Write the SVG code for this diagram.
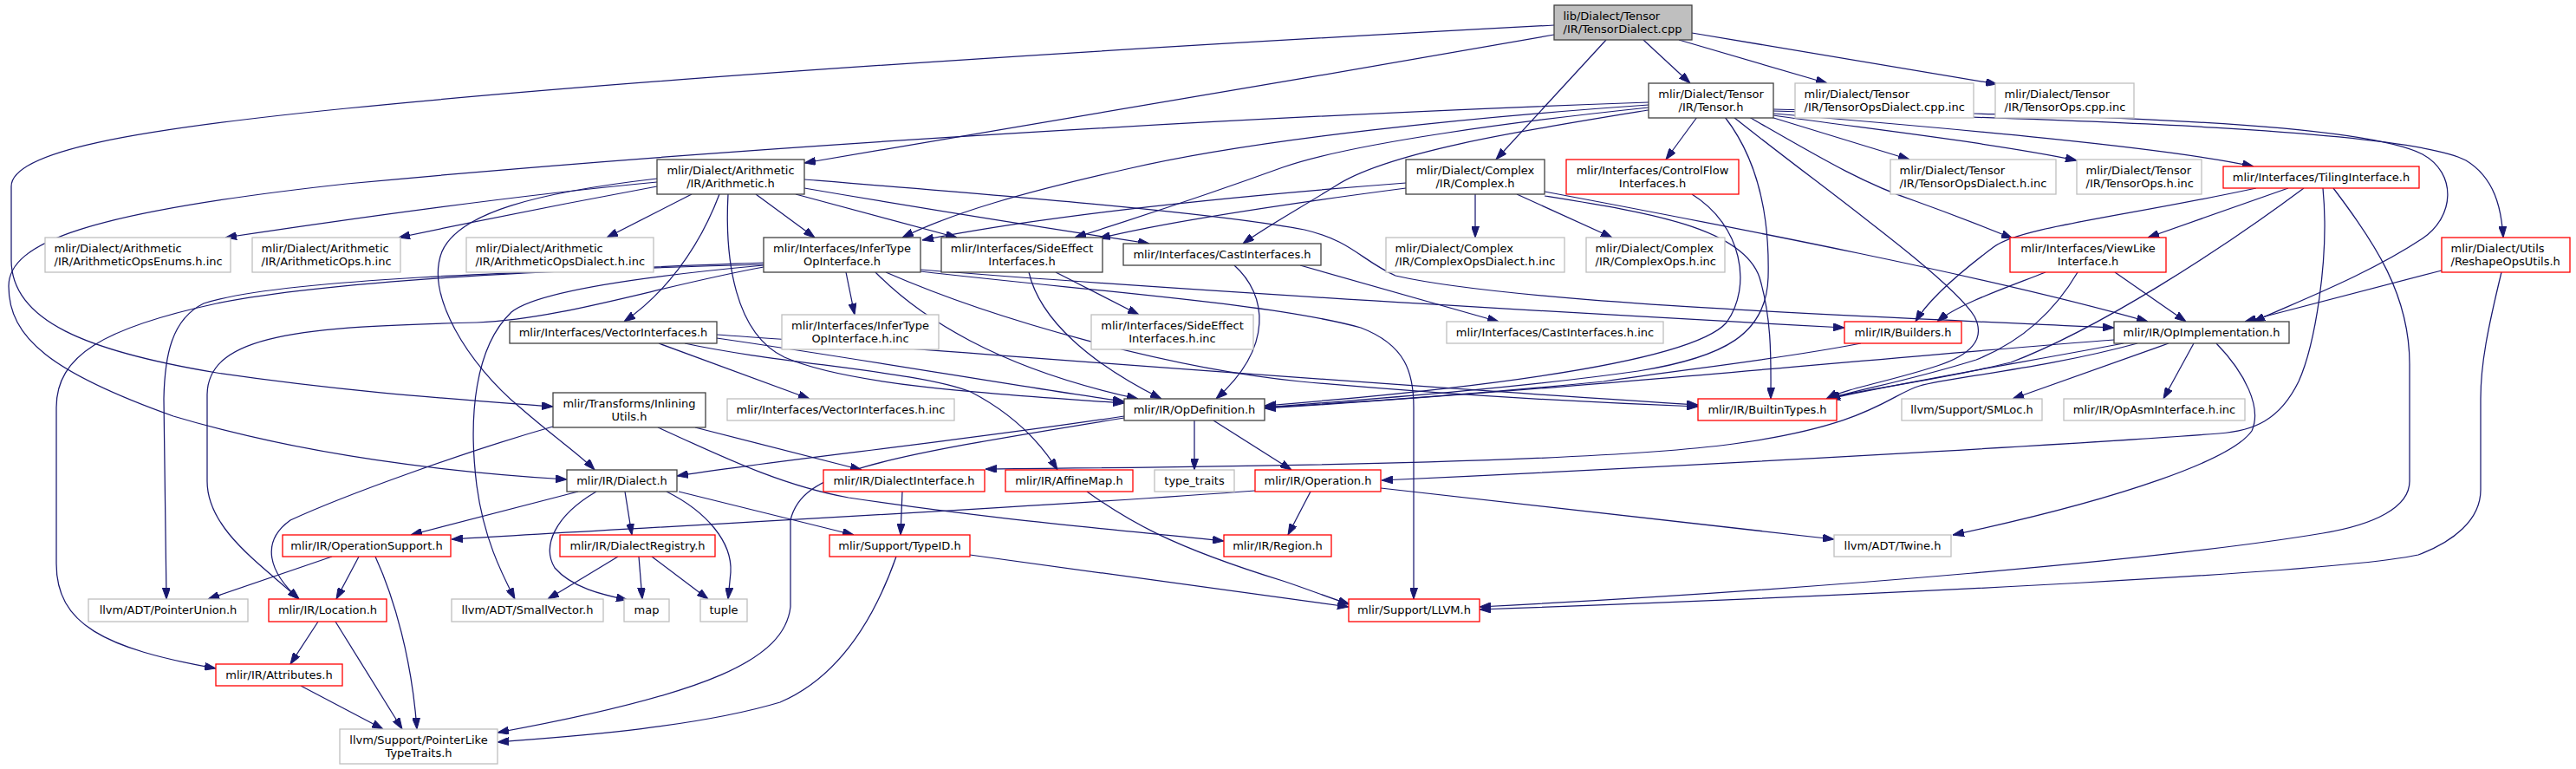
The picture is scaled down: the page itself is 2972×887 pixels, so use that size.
<svg xmlns="http://www.w3.org/2000/svg" width="2972" height="887" viewBox="0 0 2972 887">
<defs>
<marker id="a" viewBox="0 0 13 9" markerWidth="13" markerHeight="9" refX="13" refY="4.5" orient="auto" markerUnits="userSpaceOnUse"><path d="M0,0 L13,4.5 L0,9 z" fill="#191970" stroke="#191970" stroke-width="1"/></marker>
<style>
.e path{fill:none;stroke:#191970;stroke-width:1.25;marker-end:url(#a)}
rect{fill:#fff;stroke-width:1.3}
.k rect{stroke:#404040}
.r rect{stroke:#ff0000}
.g rect{stroke:#bfbfbf}
.root rect{fill:#bfbfbf;stroke:#404040}
text{font-family:"DejaVu Sans","Liberation Sans",sans-serif;font-size:13px;fill:#000}
.m{text-anchor:middle}
</style>
</defs>
<rect x="0" y="0" width="2972" height="887" fill="#fff" stroke="none"/>
<g id="connectors" class="e">
<path d="M1896,46 L1950,96"/>
<path d="M1937,46 L2108,96"/>
<path d="M1952,38 L2304,97"/>
<path d="M1853,46 L1726,184"/>
<path d="M1793,40 C1500,92 1150,150 928,188"/>
<path d="M1793,29 C1400,50 800,85 400,125 C150,150 13,175 13,215 L13,300 C13,370 100,405 250,430 C400,452 520,460 638,469"/>
<path d="M1902,118 C1500,132 900,165 400,212 C100,245 10,280 10,330 C10,390 60,430 200,480 C350,525 520,545 654,553"/>
<path d="M1902,121 C1700,135 1450,160 1300,195 C1180,222 1100,245 1041,274"/>
<path d="M1902,124 C1750,140 1560,165 1480,193 C1400,222 1300,255 1240,274"/>
<path d="M1902,127 C1760,150 1600,175 1540,215 C1500,240 1460,262 1434,281"/>
<path d="M1958,135 L1922,184"/>
<path d="M2000,135 C2100,215 2250,320 2278,365 C2292,392 2272,410 2235,422 C2180,440 2130,448 2107,460"/>
<path d="M1990,135 C2025,180 2042,240 2040,320 C2038,385 1990,412 1890,428 C1750,448 1560,462 1459,470"/>
<path d="M2018,135 C2100,182 2150,212 2210,232 C2260,250 2295,264 2322,275"/>
<path d="M2043,135 L2203,184"/>
<path d="M2046,133 C2150,148 2300,165 2396,185"/>
<path d="M2046,131 C2250,148 2500,170 2600,192"/>
<path d="M2046,128 C2400,138 2780,150 2845,185 C2878,205 2886,240 2888,274"/>
<path d="M2046,126 C2400,133 2720,140 2795,178 C2835,200 2832,250 2795,275 C2730,318 2650,348 2600,371"/>
<path d="M758,210 C600,225 420,250 260,274"/>
<path d="M758,215 C650,235 550,255 460,274"/>
<path d="M798,224 L700,274"/>
<path d="M830,224 C805,290 765,340 720,371"/>
<path d="M758,206 C620,222 530,245 510,290 C490,340 540,420 600,470 C640,505 670,525 686,542"/>
<path d="M872,224 L940,274"/>
<path d="M918,224 L1104,274"/>
<path d="M928,217 C1050,238 1200,262 1326,281"/>
<path d="M840,224 C836,300 848,385 905,412 C980,445 1150,455 1297,465"/>
<path d="M928,207 C1150,225 1400,245 1505,265 C1560,278 1570,300 1610,318 C1750,350 2150,365 2439,378"/>
<path d="M1622,211 C1400,228 1200,250 1064,277"/>
<path d="M1622,217 C1500,233 1350,255 1268,275"/>
<path d="M1702,224 L1702,274"/>
<path d="M1750,224 L1860,274"/>
<path d="M1782,221 C2000,262 2300,320 2478,371"/>
<path d="M1782,226 C1900,245 2010,262 2030,320 C2045,370 2043,420 2043,460"/>
<path d="M1952,224 C2010,260 2022,330 1992,372 C1945,425 1620,455 1459,468"/>
<path d="M2603,217 C2450,250 2330,262 2300,285 C2260,315 2225,345 2210,371"/>
<path d="M2640,217 L2478,274"/>
<path d="M2658,217 C2560,290 2420,380 2320,418 C2230,440 2140,450 2108,460"/>
<path d="M2680,217 C2688,300 2670,400 2652,440 C2630,485 2600,497 2560,500 C2400,512 2000,535 1594,554"/>
<path d="M2692,217 C2740,280 2780,340 2780,420 L2780,555 C2780,585 2740,605 2680,615 C2500,645 2100,680 1707,700"/>
<path d="M2817,312 L2590,371"/>
<path d="M2886,314 C2870,380 2862,420 2862,460 L2862,565 C2862,600 2830,625 2790,640 C2700,660 2200,685 1707,703"/>
<path d="M2360,314 C2320,330 2260,350 2235,371"/>
<path d="M2397,314 C2370,360 2330,395 2280,415 C2200,440 2140,450 2110,460"/>
<path d="M2440,314 L2522,371"/>
<path d="M976,314 L986,363"/>
<path d="M881,303 C700,310 400,320 250,350 C120,378 65,410 65,470 L65,650 C65,720 120,748 249,771"/>
<path d="M881,305 C600,313 320,322 235,350 C198,368 190,410 189,460 L192,691"/>
<path d="M881,308 C760,330 650,368 550,372 C350,377 240,385 239,455 L239,555 C239,610 300,650 345,691"/>
<path d="M881,306 C750,318 620,335 590,360 C548,400 540,480 550,560 C558,620 578,660 594,691"/>
<path d="M1062,311 C1300,330 1700,355 2128,378"/>
<path d="M1022,314 C1150,370 1350,425 1500,440 C1700,458 1850,465 1959,469"/>
<path d="M1010,314 C1060,365 1150,425 1313,460"/>
<path d="M1062,313 C1250,335 1470,350 1570,378 C1622,398 1631,430 1631,470 L1631,691"/>
<path d="M1218,314 L1314,363"/>
<path d="M1187,314 C1200,370 1260,420 1340,460"/>
<path d="M1500,306 L1729,371"/>
<path d="M1424,306 C1462,340 1470,400 1403,460"/>
<path d="M760,396 L934,460"/>
<path d="M790,396 C900,420 1060,428 1120,452 C1170,478 1200,510 1220,542"/>
<path d="M827,390 C1000,415 1200,450 1297,463"/>
<path d="M827,386 C1100,405 1600,445 1959,467"/>
<path d="M2147,396 C2050,415 1950,425 1850,440 C1700,455 1550,465 1459,470"/>
<path d="M2439,392 C2200,410 1800,450 1459,471"/>
<path d="M2450,396 C2350,415 2200,440 2110,460"/>
<path d="M2466,396 C2360,425 2250,435 2215,445 C2180,455 2160,490 2000,512 C1850,532 1500,538 1137,541"/>
<path d="M2502,396 C2450,415 2400,432 2322,460"/>
<path d="M2531,396 L2496,460"/>
<path d="M2557,396 C2590,430 2610,470 2598,497 C2575,530 2450,575 2253,617"/>
<path d="M638,492 C540,520 400,570 335,600 C300,625 310,660 345,691"/>
<path d="M802,493 L994,542"/>
<path d="M759,493 C830,525 900,560 979,574 C1150,600 1300,612 1412,624"/>
<path d="M1297,480 C1100,510 900,530 781,549"/>
<path d="M1378,485 L1378,542"/>
<path d="M1400,485 L1490,542"/>
<path d="M1297,482 C1000,530 925,545 912,600 L912,700 C905,760 820,800 574,845"/>
<path d="M667,567 L474,617"/>
<path d="M721,567 L729,617"/>
<path d="M688,567 C640,595 625,630 640,655 C660,678 695,686 724,692"/>
<path d="M769,567 C815,590 845,625 843,660 L840,691"/>
<path d="M783,567 L985,617"/>
<path d="M713,642 L632,691"/>
<path d="M737,642 L741,691"/>
<path d="M752,642 L817,691"/>
<path d="M1041,567 L1039,617"/>
<path d="M1254,567 C1300,600 1350,630 1480,670 C1510,680 1535,690 1557,697"/>
<path d="M1119,640 C1300,665 1450,685 1556,700"/>
<path d="M1034,642 C1010,710 970,780 900,810 C800,840 650,850 574,856"/>
<path d="M1448,566 C1200,585 800,605 521,622"/>
<path d="M1512,567 L1486,617"/>
<path d="M1593,563 L2116,622"/>
<path d="M383,642 L240,691"/>
<path d="M414,642 L388,691"/>
<path d="M433,642 C455,690 475,760 481,841"/>
<path d="M367,717 L335,766"/>
<path d="M387,717 L464,841"/>
<path d="M347,791 L442,841"/>
</g>
<g id="n1" class="root"><rect x="1793" y="6" width="159" height="40"/><text x="1803.5" y="23">lib/Dialect/Tensor</text><text x="1803.5" y="38">/IR/TensorDialect.cpp</text></g>
<g id="n2" class="k"><rect x="1902" y="96" width="144" height="40"/><text class="m" x="1974" y="113">mlir/Dialect/Tensor</text><text class="m" x="1974" y="128">/IR/Tensor.h</text></g>
<g id="n3" class="g"><rect x="2071" y="96" width="206" height="40"/><text x="2081.5" y="113">mlir/Dialect/Tensor</text><text x="2081.5" y="128">/IR/TensorOpsDialect.cpp.inc</text></g>
<g id="n4" class="g"><rect x="2302" y="96" width="160" height="40"/><text x="2312.5" y="113">mlir/Dialect/Tensor</text><text x="2312.5" y="128">/IR/TensorOps.cpp.inc</text></g>
<g id="n5" class="k"><rect x="758" y="184" width="170" height="40"/><text class="m" x="843" y="201">mlir/Dialect/Arithmetic</text><text class="m" x="843" y="216">/IR/Arithmetic.h</text></g>
<g id="n6" class="k"><rect x="1622" y="184" width="160" height="40"/><text class="m" x="1702" y="201">mlir/Dialect/Complex</text><text class="m" x="1702" y="216">/IR/Complex.h</text></g>
<g id="n7" class="r"><rect x="1807" y="184" width="199" height="40"/><text class="m" x="1906.5" y="201">mlir/Interfaces/ControlFlow</text><text class="m" x="1906.5" y="216">Interfaces.h</text></g>
<g id="n8" class="g"><rect x="2181" y="184" width="191" height="40"/><text x="2191.5" y="201">mlir/Dialect/Tensor</text><text x="2191.5" y="216">/IR/TensorOpsDialect.h.inc</text></g>
<g id="n9" class="g"><rect x="2396" y="184" width="144" height="40"/><text x="2406.5" y="201">mlir/Dialect/Tensor</text><text x="2406.5" y="216">/IR/TensorOps.h.inc</text></g>
<g id="n10" class="r"><rect x="2565" y="192" width="226" height="25"/><text class="m" x="2678" y="209">mlir/Interfaces/TilingInterface.h</text></g>
<g id="n11" class="g"><rect x="52" y="274" width="214" height="40"/><text x="62.5" y="291">mlir/Dialect/Arithmetic</text><text x="62.5" y="306">/IR/ArithmeticOpsEnums.h.inc</text></g>
<g id="n12" class="g"><rect x="291" y="274" width="171" height="40"/><text x="301.5" y="291">mlir/Dialect/Arithmetic</text><text x="301.5" y="306">/IR/ArithmeticOps.h.inc</text></g>
<g id="n13" class="g"><rect x="538" y="274" width="216" height="40"/><text x="548.5" y="291">mlir/Dialect/Arithmetic</text><text x="548.5" y="306">/IR/ArithmeticOpsDialect.h.inc</text></g>
<g id="n14" class="k"><rect x="881" y="274" width="181" height="40"/><text class="m" x="971.5" y="291">mlir/Interfaces/InferType</text><text class="m" x="971.5" y="306">OpInterface.h</text></g>
<g id="n15" class="k"><rect x="1086" y="274" width="186" height="40"/><text class="m" x="1179" y="291">mlir/Interfaces/SideEffect</text><text class="m" x="1179" y="306">Interfaces.h</text></g>
<g id="n16" class="k"><rect x="1296" y="281" width="228" height="25"/><text class="m" x="1410" y="298">mlir/Interfaces/CastInterfaces.h</text></g>
<g id="n17" class="g"><rect x="1599" y="274" width="206" height="40"/><text x="1609.5" y="291">mlir/Dialect/Complex</text><text x="1609.5" y="306">/IR/ComplexOpsDialect.h.inc</text></g>
<g id="n18" class="g"><rect x="1830" y="274" width="160" height="40"/><text x="1840.5" y="291">mlir/Dialect/Complex</text><text x="1840.5" y="306">/IR/ComplexOps.h.inc</text></g>
<g id="n19" class="r"><rect x="2319" y="274" width="180" height="40"/><text class="m" x="2409" y="291">mlir/Interfaces/ViewLike</text><text class="m" x="2409" y="306">Interface.h</text></g>
<g id="n20" class="r"><rect x="2817" y="274" width="148" height="40"/><text x="2827.5" y="291">mlir/Dialect/Utils</text><text x="2827.5" y="306">/ReshapeOpsUtils.h</text></g>
<g id="n21" class="k"><rect x="588" y="371" width="239" height="25"/><text class="m" x="707.5" y="388">mlir/Interfaces/VectorInterfaces.h</text></g>
<g id="n22" class="g"><rect x="902" y="363" width="181" height="40"/><text class="m" x="992.5" y="380">mlir/Interfaces/InferType</text><text class="m" x="992.5" y="395">OpInterface.h.inc</text></g>
<g id="n23" class="g"><rect x="1259" y="363" width="187" height="40"/><text class="m" x="1352.5" y="380">mlir/Interfaces/SideEffect</text><text class="m" x="1352.5" y="395">Interfaces.h.inc</text></g>
<g id="n24" class="g"><rect x="1669" y="371" width="250" height="25"/><text class="m" x="1794" y="388">mlir/Interfaces/CastInterfaces.h.inc</text></g>
<g id="n25" class="r"><rect x="2128" y="371" width="135" height="25"/><text class="m" x="2195.5" y="388">mlir/IR/Builders.h</text></g>
<g id="n26" class="k"><rect x="2439" y="371" width="202" height="25"/><text class="m" x="2540" y="388">mlir/IR/OpImplementation.h</text></g>
<g id="n27" class="k"><rect x="638" y="453" width="176" height="40"/><text class="m" x="726" y="470">mlir/Transforms/Inlining</text><text class="m" x="726" y="485">Utils.h</text></g>
<g id="n28" class="g"><rect x="839" y="460" width="262" height="25"/><text class="m" x="970" y="477">mlir/Interfaces/VectorInterfaces.h.inc</text></g>
<g id="n29" class="k"><rect x="1297" y="460" width="162" height="25"/><text class="m" x="1378" y="477">mlir/IR/OpDefinition.h</text></g>
<g id="n30" class="r"><rect x="1959" y="460" width="160" height="25"/><text class="m" x="2039" y="477">mlir/IR/BuiltinTypes.h</text></g>
<g id="n31" class="g"><rect x="2194" y="460" width="162" height="25"/><text class="m" x="2275" y="477">llvm/Support/SMLoc.h</text></g>
<g id="n32" class="g"><rect x="2381" y="460" width="209" height="25"/><text class="m" x="2485.5" y="477">mlir/IR/OpAsmInterface.h.inc</text></g>
<g id="n33" class="k"><rect x="654" y="542" width="127" height="25"/><text class="m" x="717.5" y="559">mlir/IR/Dialect.h</text></g>
<g id="n34" class="r"><rect x="950" y="542" width="186" height="25"/><text class="m" x="1043" y="559">mlir/IR/DialectInterface.h</text></g>
<g id="n35" class="r"><rect x="1160" y="542" width="147" height="25"/><text class="m" x="1233.5" y="559">mlir/IR/AffineMap.h</text></g>
<g id="n36" class="g"><rect x="1332" y="542" width="92" height="25"/><text class="m" x="1378" y="559">type_traits</text></g>
<g id="n37" class="r"><rect x="1448" y="542" width="145" height="25"/><text class="m" x="1520.5" y="559">mlir/IR/Operation.h</text></g>
<g id="n38" class="r"><rect x="326" y="617" width="194" height="25"/><text class="m" x="423" y="634">mlir/IR/OperationSupport.h</text></g>
<g id="n39" class="r"><rect x="646" y="617" width="179" height="25"/><text class="m" x="735.5" y="634">mlir/IR/DialectRegistry.h</text></g>
<g id="n40" class="r"><rect x="957" y="617" width="162" height="25"/><text class="m" x="1038" y="634">mlir/Support/TypeID.h</text></g>
<g id="n41" class="r"><rect x="1412" y="617" width="124" height="25"/><text class="m" x="1474" y="634">mlir/IR/Region.h</text></g>
<g id="n42" class="g"><rect x="2116" y="617" width="135" height="25"/><text class="m" x="2183.5" y="634">llvm/ADT/Twine.h</text></g>
<g id="n43" class="g"><rect x="102" y="691" width="184" height="26"/><text class="m" x="194" y="708">llvm/ADT/PointerUnion.h</text></g>
<g id="n44" class="r"><rect x="310" y="691" width="136" height="26"/><text class="m" x="378" y="708">mlir/IR/Location.h</text></g>
<g id="n45" class="g"><rect x="521" y="691" width="175" height="26"/><text class="m" x="608.5" y="708">llvm/ADT/SmallVector.h</text></g>
<g id="n46" class="g"><rect x="720" y="691" width="52" height="26"/><text class="m" x="746" y="708">map</text></g>
<g id="n47" class="g"><rect x="808" y="691" width="54" height="26"/><text class="m" x="835" y="708">tuple</text></g>
<g id="n48" class="r"><rect x="1556" y="691" width="151" height="26"/><text class="m" x="1631.5" y="708">mlir/Support/LLVM.h</text></g>
<g id="n49" class="r"><rect x="249" y="766" width="146" height="25"/><text class="m" x="322" y="783">mlir/IR/Attributes.h</text></g>
<g id="n50" class="g"><rect x="392" y="841" width="182" height="40"/><text class="m" x="483" y="858">llvm/Support/PointerLike</text><text class="m" x="483" y="873">TypeTraits.h</text></g>
</svg>
